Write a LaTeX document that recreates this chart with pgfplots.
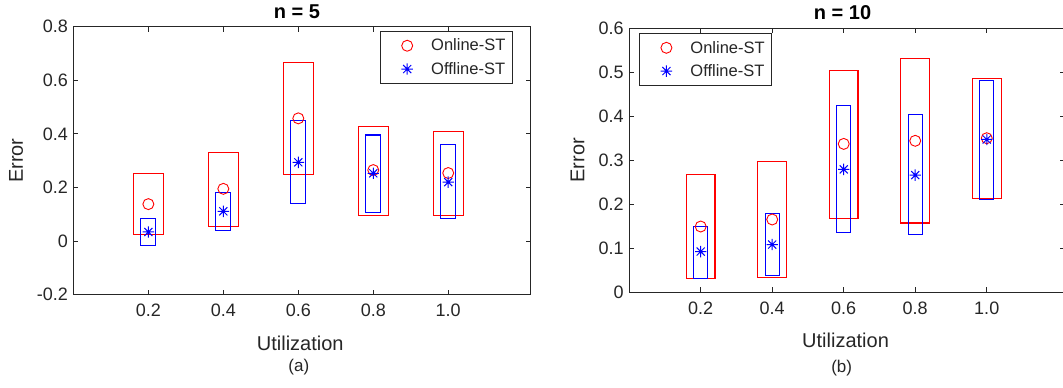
\documentclass[border=0pt]{standalone}
\usepackage{fontspec}
\setmainfont{Liberation Sans}
\usepackage{pgfplots}
\pgfplotsset{compat=1.18}
\definecolor{mg}{HTML}{262626}
\definecolor{mred}{rgb}{1,0,0}
\definecolor{mblue}{rgb}{0,0,1}
\pgfdeclareplotmark{ast8}{%
  \pgfpathmoveto{\pgfqpoint{0pt}{\pgfplotmarksize}}\pgfpathlineto{\pgfqpoint{0pt}{-\pgfplotmarksize}}%
  \pgfpathmoveto{\pgfqpoint{\pgfplotmarksize}{0pt}}\pgfpathlineto{\pgfqpoint{-\pgfplotmarksize}{0pt}}%
  \pgfpathmoveto{\pgfqpoint{0.7071\pgfplotmarksize}{0.7071\pgfplotmarksize}}\pgfpathlineto{\pgfqpoint{-0.7071\pgfplotmarksize}{-0.7071\pgfplotmarksize}}%
  \pgfpathmoveto{\pgfqpoint{0.7071\pgfplotmarksize}{-0.7071\pgfplotmarksize}}\pgfpathlineto{\pgfqpoint{-0.7071\pgfplotmarksize}{0.7071\pgfplotmarksize}}%
  \pgfusepathqstroke}
% box: colour, width, position, low, high
\newcommand{\bx}[5]{%
  \pgfmathsetmacro\xa{#3-#2/2}\pgfmathsetmacro\xb{#3+#2/2}%
  \edef\temp{\noexpand\addplot[color=#1, line width=1.1pt, line cap=rect, mark=none, forget plot]
    coordinates {(\xa,#4) (\xb,#4) (\xb,#5) (\xa,#5) (\xa,#4)};}%
  \temp}
\pgfplotsset{myax/.style={
  scale only axis, anchor=south west, xmin=0, xmax=1.22,
  axis line style={mg, line width=0.8pt}, tick style={mg, line width=0.8pt},
  major tick length=5pt,
  xtick={0.2,0.4,0.6,0.8,1.0}, xticklabels={0.2,0.4,0.6,0.8,1.0},
  ticklabel style={font=\fontsize{18}{18}\selectfont, text=mg},
  xticklabel style={yshift=-6pt}, yticklabel style={xshift=-2pt},
  label style={font=\fontsize{20}{20}\selectfont, text=mg},
  xlabel style={at={(axis description cs:0.496,0)}, anchor=base, yshift=-55.3pt},
  title style={font=\fontsize{20}{20}\selectfont\bfseries, text=black, at={(axis description cs:0.489,1)}, anchor=base, yshift=2.4pt},
  legend style={draw=mg, line width=0.8pt, fill=white, inner xsep=7pt, inner ysep=2.7pt,
    row sep=0pt, column sep=0pt, font=\fontsize{16.5}{16.5}\selectfont, text=mg,
    cells={anchor=west}, nodes={inner sep=0pt}},
  legend image code/.code={\path[draw=none, fill=none] (0pt,-11.65pt) rectangle (44pt,11.65pt); \draw[##1] plot coordinates {(20pt,0pt)};},
}}
\begin{document}
\begin{tikzpicture}
\path[use as bounding box] (0pt,0pt) rectangle (1063pt,-388pt);
\begin{axis}[myax, at={(73.4pt,-294.7pt)}, width=457.3pt, height=268pt,
  ymin=-0.2, ymax=0.8, ytick={-0.2,0,0.2,0.4,0.6,0.8}, yticklabels={-0.2,0,0.2,0.4,0.6,0.8},
  title={n = 5}, xlabel={Utilization}, ylabel={Error},
  ylabel style={at={(axis description cs:-0.1255,0.5)}, anchor=center},
  legend style={at={(axis description cs:0.961,0.984)}, anchor=north east}]
\bx{mred}{0.08}{0.2}{0.025}{0.251}
\bx{mred}{0.08}{0.4}{0.053}{0.330}
\bx{mred}{0.08}{0.6}{0.249}{0.667}
\bx{mred}{0.08}{0.8}{0.096}{0.427}
\bx{mred}{0.08}{1.0}{0.096}{0.410}
\bx{mblue}{0.04}{0.2}{-0.016}{0.085}
\bx{mblue}{0.04}{0.4}{0.040}{0.180}
\bx{mblue}{0.04}{0.6}{0.141}{0.450}
\bx{mblue}{0.04}{0.8}{0.107}{0.396}
\bx{mblue}{0.04}{1.0}{0.085}{0.361}
\addplot[only marks, mred, mark=o, mark size=5.5pt, line width=0.9pt]
  coordinates {(0.2,0.138) (0.4,0.195) (0.6,0.458) (0.8,0.265) (1.0,0.254)};
\addlegendentry{Online-ST}
\addplot[only marks, mblue, mark=ast8, mark size=5.7pt, line width=1pt]
  coordinates {(0.2,0.034) (0.4,0.111) (0.6,0.294) (0.8,0.253) (1.0,0.220)};
\addlegendentry{Offline-ST}
\end{axis}
\begin{axis}[myax, at={(629.2pt,-292pt)}, width=436.2pt, height=263.7pt,
  ymin=0, ymax=0.6, ytick={0,0.1,0.2,0.3,0.4,0.5,0.6}, yticklabels={0,0.1,0.2,0.3,0.4,0.5,0.6},
  title={n = 10}, xlabel={Utilization}, ylabel={Error},
  ylabel style={at={(axis description cs:-0.1185,0.5)}, anchor=center},
  legend style={at={(axis description cs:0.0225,0.982)}, anchor=north west}]
\bx{mred}{0.08}{0.2}{0.031}{0.268}
\bx{mred}{0.08}{0.4}{0.034}{0.296}
\bx{mred}{0.08}{0.6}{0.168}{0.504}
\bx{mred}{0.08}{0.8}{0.157}{0.532}
\bx{mred}{0.08}{1.0}{0.213}{0.485}
\bx{mblue}{0.04}{0.2}{0.031}{0.150}
\bx{mblue}{0.04}{0.4}{0.038}{0.179}
\bx{mblue}{0.04}{0.6}{0.135}{0.425}
\bx{mblue}{0.04}{0.8}{0.131}{0.404}
\bx{mblue}{0.04}{1.0}{0.211}{0.481}
\addplot[only marks, mred, mark=o, mark size=5.5pt, line width=0.9pt]
  coordinates {(0.2,0.149) (0.4,0.165) (0.6,0.337) (0.8,0.344) (1.0,0.350)};
\addlegendentry{Online-ST}
\addplot[only marks, mblue, mark=ast8, mark size=5.7pt, line width=1pt]
  coordinates {(0.2,0.092) (0.4,0.108) (0.6,0.279) (0.8,0.266) (1.0,0.347)};
\addlegendentry{Offline-ST}
\end{axis}
\node[font=\fontsize{17}{17}\selectfont, text=mg, anchor=base] at (298.8pt,-371.7pt) {(a)};
\node[font=\fontsize{17}{17}\selectfont, text=mg, anchor=base] at (841.7pt,-372pt) {(b)};
\end{tikzpicture}
\end{document}
